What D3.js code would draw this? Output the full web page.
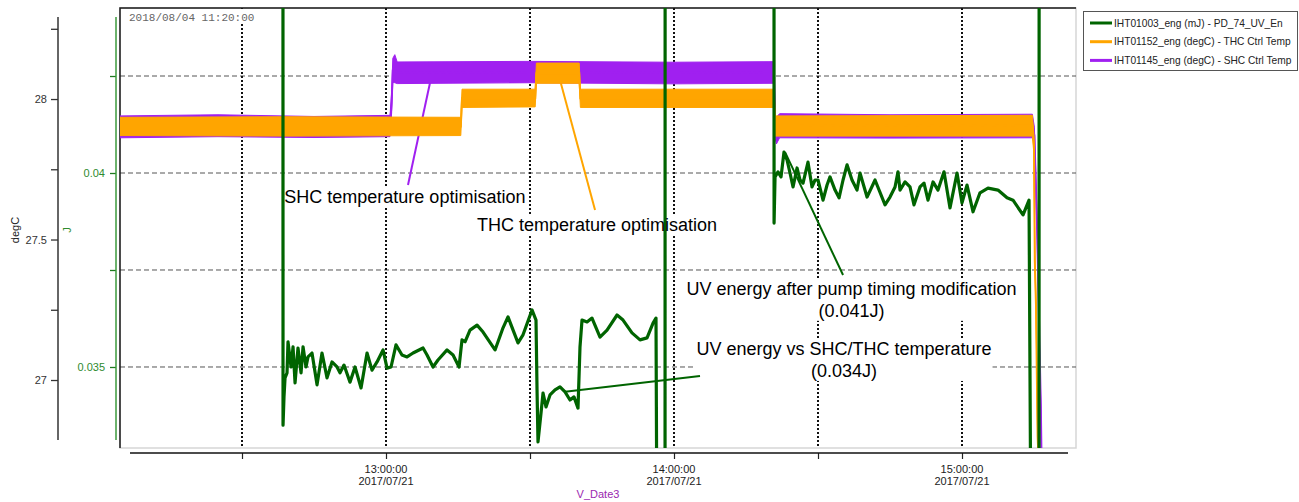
<!DOCTYPE html>
<html>
<head>
<meta charset="utf-8">
<script src="https://cdn.jsdelivr.net/npm/d3@7"></script>
<style>
  body { margin: 0; background: #fff; }
  svg text { font-family: "Liberation Sans", Arial, sans-serif; }
</style>
</head>
<body>
<svg id="chart" width="1299" height="502"></svg>
<script>
// ---- data ----
let day = "2017/07/21";
let stamp = "2018/08/04 11:20:00";

let timeExtent = ["12:04:35", "15:23:45"];
let degCExtent = [26.758, 28.324];
let energyExtent = [0.032912, 0.044253];

let timeTicks = ["12:30:00", "13:00:00", "13:30:00", "14:00:00", "14:30:00", "15:00:00"];
let degCTicks = [27, 27.25, 27.5, 27.75, 28, 28.25];
let degCLabels = ["27", "", "27.5", "", "28", ""];
let energyTicks = [0.035, 0.0375, 0.04, 0.0425];
let energyLabels = ["0.035", "", "0.04", ""];

let seriesNames = ["IHT01003_eng (mJ) - PD_74_UV_En",
                   "IHT01152_eng (degC) - THC Ctrl Temp",
                   "IHT01145_eng (degC) - SHC Ctrl Temp"];
let seriesColors = ["#006400", "#ffa500", "#a020f0"];

// SHC ctrl temp, [time, low, high] of the noisy band (degC)
let shcTemp = [
    ["12:04:35", 27.862, 27.940],
    ["12:25:00", 27.866, 27.944],
    ["12:45:00", 27.863, 27.938],
    ["13:00:50", 27.866, 27.942],
    ["13:01:10", 27.950, 28.020],
    ["13:01:25", 28.060, 28.145],
    ["13:01:50", 28.058, 28.158],
    ["13:02:20", 28.055, 28.132],
    ["13:30:00", 28.058, 28.134],
    ["14:00:00", 28.054, 28.131],
    ["14:20:50", 28.056, 28.133],
    ["14:21:05", 27.860, 27.940],
    ["14:21:20", 27.840, 27.935],
    ["14:22:00", 27.862, 27.948],
    ["14:45:00", 27.861, 27.944],
    ["15:14:40", 27.862, 27.946],
    ["15:15:05", 27.840, 27.900],
    ["15:15:40", 27.500, 27.560],
    ["15:16:10", 27.100, 27.120],
    ["15:16:25", 26.900, 26.920],
    ["15:16:35", 26.700, 26.700]
];

// THC ctrl temp, [time, low, high] (degC)
let thcTemp = [
    ["12:04:35", 27.870, 27.935],
    ["12:40:00", 27.868, 27.937],
    ["13:15:35", 27.870, 27.935],
    ["13:15:50", 27.970, 28.035],
    ["13:31:05", 27.972, 28.035],
    ["13:31:20", 28.056, 28.128],
    ["13:40:15", 28.056, 28.128],
    ["13:40:30", 27.970, 28.035],
    ["14:20:50", 27.970, 28.035],
    ["14:21:05", 27.868, 27.940],
    ["15:14:40", 27.868, 27.942],
    ["15:15:00", 27.800, 27.870],
    ["15:15:10", 27.400, 27.450],
    ["15:15:25", 27.250, 27.280],
    ["15:15:45", 26.800, 26.800],
    ["15:16:00", 26.700, 26.700]
];

// UV energy (J); 0.046 / 0.030 are off-scale readings
let uvEnergy = [
    ["12:38:32", 0.0460], ["12:38:33", 0.03350], ["12:38:45", 0.03423], ["12:38:58", 0.03472],
    ["12:39:23", 0.03485], ["12:39:35", 0.03565], ["12:40:13", 0.03500], ["12:40:38", 0.03552],
    ["12:41:03", 0.03459], ["12:41:40", 0.03549], ["12:42:18", 0.03485], ["12:42:43", 0.03552],
    ["12:43:20", 0.03500], ["12:43:45", 0.03526], ["12:44:35", 0.03536], ["12:45:38", 0.03454],
    ["12:46:40", 0.03536], ["12:47:43", 0.03472], ["12:48:45", 0.03513], ["12:49:48", 0.03500],
    ["12:50:25", 0.03485], ["12:51:15", 0.03505], ["12:52:30", 0.03461], ["12:53:33", 0.03500],
    ["12:54:48", 0.03446], ["12:56:03", 0.03536], ["12:57:05", 0.03492], ["12:58:08", 0.03513],
    ["12:59:23", 0.03544], ["13:00:13", 0.03497], ["13:01:03", 0.03500], ["13:02:05", 0.03557],
    ["13:03:20", 0.03531], ["13:04:23", 0.03526], ["13:05:38", 0.03536], ["13:07:43", 0.03549],
    ["13:08:33", 0.03531], ["13:09:48", 0.03500], ["13:10:50", 0.03518], ["13:12:43", 0.03544],
    ["13:13:58", 0.03531], ["13:15:13", 0.03500], ["13:15:50", 0.03570], ["13:16:28", 0.03565],
    ["13:17:30", 0.03595], ["13:18:58", 0.03608], ["13:20:13", 0.03590], ["13:22:43", 0.03544],
    ["13:24:23", 0.03601], ["13:25:25", 0.03629], ["13:27:30", 0.03562], ["13:28:33", 0.03583],
    ["13:30:25", 0.03647], ["13:31:15", 0.03621], ["13:31:28", 0.03441], ["13:31:40", 0.03307],
    ["13:32:18", 0.03382], ["13:32:43", 0.03433], ["13:33:20", 0.03397], ["13:34:10", 0.03428],
    ["13:35:13", 0.03441], ["13:36:15", 0.03449], ["13:37:18", 0.03436], ["13:38:20", 0.03415],
    ["13:39:10", 0.03423], ["13:40:00", 0.03394], ["13:40:25", 0.03552], ["13:40:50", 0.03621],
    ["13:41:53", 0.03616], ["13:42:55", 0.03626], ["13:44:35", 0.03577], ["13:46:03", 0.03595],
    ["13:48:08", 0.03634], ["13:49:23", 0.03621], ["13:51:15", 0.03588], ["13:52:55", 0.03570],
    ["13:54:23", 0.03575], ["13:55:38", 0.03613], ["13:56:15", 0.03626], ["13:56:28", 0.0300],
    ["13:58:08", 0.0300], ["13:58:09", 0.0460], ["14:20:50", 0.0460], ["14:20:51", 0.03871],
    ["14:21:03", 0.03990], ["14:21:40", 0.04003], ["14:22:18", 0.03990], ["14:22:55", 0.04054],
    ["14:23:33", 0.04034], ["14:24:10", 0.04000], ["14:24:48", 0.03964], ["14:25:38", 0.04013],
    ["14:26:15", 0.03982], ["14:26:53", 0.03974], ["14:27:55", 0.04028], ["14:28:45", 0.03964],
    ["14:29:23", 0.03982], ["14:30:00", 0.03982], ["14:31:03", 0.03930], ["14:31:53", 0.03969],
    ["14:32:30", 0.03990], ["14:33:33", 0.03956], ["14:34:23", 0.03936], ["14:35:13", 0.03982],
    ["14:36:03", 0.04021], ["14:37:05", 0.03982], ["14:38:08", 0.03956], ["14:38:45", 0.04000],
    ["14:40:13", 0.03938], ["14:41:53", 0.03982], ["14:43:58", 0.03918], ["14:45:00", 0.03938],
    ["14:46:03", 0.03964], ["14:46:40", 0.04003], ["14:47:05", 0.03956], ["14:48:08", 0.03977],
    ["14:49:10", 0.03964], ["14:50:00", 0.03918], ["14:51:15", 0.03964], ["14:52:05", 0.03974],
    ["14:52:55", 0.03930], ["14:53:58", 0.03977], ["14:55:00", 0.03956], ["14:56:15", 0.04003],
    ["14:57:30", 0.03910], ["14:58:58", 0.04000], ["15:00:00", 0.03923], ["15:01:03", 0.03969],
    ["15:02:18", 0.03900], ["15:03:45", 0.03949], ["15:05:25", 0.03961], ["15:07:30", 0.03956],
    ["15:09:23", 0.03936], ["15:10:38", 0.03930], ["15:12:43", 0.03892], ["15:13:58", 0.03930],
    ["15:14:23", 0.0300], ["15:16:03", 0.0300], ["15:16:04", 0.0460]
];

// annotations: text lines, pointer from/to and text anchor in data units
let notes = [
    {lines: ["SHC temperature optimisation"], color: "#a020f0", unit: "degC",
     from: ["13:09:23", 28.075], to: ["13:04:35", 27.694], at: ["12:38:49", 27.630], anchor: "start"},
    {lines: ["THC temperature optimisation"], color: "#ffa500", unit: "degC",
     from: ["13:36:15", 28.068], to: ["13:43:33", 27.605], at: ["13:18:58", 27.530], anchor: "start"},
    {lines: ["UV energy after pump timing modification", "(0.041J)"], color: "#006400", unit: "J",
     from: ["14:23:08", 0.04054], to: ["14:35:13", 0.03737], at: ["14:36:59", 0.03686], anchor: "middle"},
    {lines: ["UV energy vs SHC/THC temperature", "(0.034J)"], color: "#006400", unit: "J",
     from: ["13:37:18", 0.03436], to: ["14:05:25", 0.03477], at: ["14:35:25", 0.03531], anchor: "middle"}
];

// ---- chart ----
let parseFull = d3.timeParse("%Y/%m/%d %H:%M:%S");
function t(s) { return parseFull(day + " " + s); }

let plotLeft = 120, plotTop = 8, plotRight = 1076, plotBottom = 448;

var svg = d3.select("#chart");

var x = d3.scaleTime()
          .domain(timeExtent.map(t))
          .range([plotLeft, plotRight]);
var yT = d3.scaleLinear()
           .domain(degCExtent)
           .range([plotBottom, plotTop]);
var yJ = d3.scaleLinear()
           .domain(energyExtent)
           .range([plotBottom, plotTop]);

svg.append("defs").append("clipPath")
   .attr("id", "plotClip")
   .append("rect")
   .attr("x", plotLeft).attr("y", plotTop)
   .attr("width", plotRight - plotLeft).attr("height", plotBottom - plotTop);

// frame
svg.append("rect")
   .attr("x", plotLeft).attr("y", plotTop)
   .attr("width", plotRight - plotLeft).attr("height", plotBottom - plotTop)
   .attr("fill", "#fff")
   .attr("stroke", "#d6d6d6")
   .attr("stroke-width", 1.5);

// GRID
var grid = svg.append("g");
grid.selectAll(".hgrid")
    .data(energyTicks)
    .enter().append("line")
    .attr("x1", plotLeft).attr("x2", plotRight)
    .attr("y1", d => yJ(d)).attr("y2", d => yJ(d))
    .attr("stroke", "#555")
    .attr("stroke-width", 1)
    .attr("stroke-dasharray", "5,3");
grid.selectAll(".vgrid")
    .data(timeTicks)
    .enter().append("line")
    .attr("x1", d => x(t(d))).attr("x2", d => x(t(d)))
    .attr("y1", plotTop).attr("y2", plotBottom)
    .attr("stroke", "#111")
    .attr("stroke-width", 2)
    .attr("stroke-dasharray", "2,2");

svg.append("path")
   .attr("d", "M" + plotLeft + "," + plotBottom + "V" + plotTop + "H" + plotRight)
   .attr("fill", "none")
   .attr("stroke", "#1a1a1a")
   .attr("stroke-width", 1.5);

var boxLayer = svg.append("g");
var pointerLayer = svg.append("g").attr("clip-path", "url(#plotClip)");
var dataLayer = svg.append("g").attr("clip-path", "url(#plotClip)");
var textLayer = svg.append("g");

// timestamp
svg.append("rect")
   .attr("x", 127).attr("y", 9).attr("width", 130).attr("height", 14)
   .attr("fill", "#fff");
svg.append("text")
   .attr("x", 129).attr("y", 21)
   .style("font-family", "'Liberation Mono', monospace")
   .attr("font-size", "11px")
   .attr("fill", "#666")
   .text(stamp);

// BANDS
function drawBand(data, color) {
    var area = d3.area()
                 .x(d => x(t(d[0])))
                 .y0(d => yT(d[1]))
                 .y1(d => yT(d[2]));
    var mid = d3.line()
                .x(d => x(t(d[0])))
                .y(d => yT((d[1] + d[2]) / 2));
    dataLayer.append("path")
             .attr("d", area(data))
             .attr("fill", color)
             .attr("stroke", color)
             .attr("stroke-width", 1);
    dataLayer.append("path")
             .attr("d", mid(data))
             .attr("fill", "none")
             .attr("stroke", color)
             .attr("stroke-width", 2);
}
drawBand(shcTemp, seriesColors[2]);
drawBand(thcTemp, seriesColors[1]);

var uvLine = d3.line()
               .x(d => x(t(d[0])))
               .y(d => yJ(d[1]));
dataLayer.append("path")
         .attr("d", uvLine(uvEnergy))
         .attr("fill", "none")
         .attr("stroke", seriesColors[0])
         .attr("stroke-width", 3.2)
         .attr("stroke-linejoin", "round");

// ANNOTATIONS
notes.forEach(n => {
    var ys = n.unit === "J" ? yJ : yT;
    pointerLayer.append("line")
                .attr("x1", x(t(n.from[0]))).attr("y1", ys(n.from[1]))
                .attr("x2", x(t(n.to[0]))).attr("y2", ys(n.to[1]))
                .attr("stroke", n.color)
                .attr("stroke-width", 2);
    var txt = textLayer.append("text")
                       .attr("x", x(t(n.at[0])))
                       .attr("y", ys(n.at[1]))
                       .attr("text-anchor", n.anchor)
                       .attr("font-size", "18px")
                       .attr("fill", "#000");
    n.lines.forEach((l, i) => {
        txt.append("tspan")
           .attr("x", x(t(n.at[0])))
           .attr("dy", i === 0 ? 0 : 22)
           .text(l);
    });
    var bb = txt.node().getBBox();
    boxLayer.append("rect")
            .attr("x", bb.x - 1).attr("y", bb.y)
            .attr("width", bb.width + 2).attr("height", bb.height)
            .attr("fill", "#fff");
});

// AXES
var xAxis = svg.append("g")
               .attr("transform", "translate(0,453)")
               .call(d3.axisBottom(x).tickValues(timeTicks.map(t)).tickSize(6).tickFormat(""));
xAxis.select(".domain").remove();
xAxis.selectAll(".tick line").attr("stroke", "#222").attr("stroke-width", 1.2);
xAxis.append("line")
     .attr("x1", 130).attr("x2", 1068)
     .attr("stroke", "#111").attr("stroke-width", 1.5);
var hourly = timeTicks.map(t).filter(d => d.getMinutes() === 0);
var xlab = svg.append("g").selectAll("text")
              .data(hourly)
              .enter().append("text")
              .attr("text-anchor", "middle")
              .attr("font-size", "11px")
              .attr("fill", "#222");
xlab.append("tspan").attr("x", d => x(d)).attr("y", 473).text(d3.timeFormat("%H:%M:%S"));
xlab.append("tspan").attr("x", d => x(d)).attr("y", 485).text(d3.timeFormat("%Y/%m/%d"));

svg.append("text")
   .attr("x", 598).attr("y", 498)
   .attr("text-anchor", "middle")
   .attr("font-size", "11px")
   .attr("fill", "#9b27b0")
   .text("V_Date3");

// degC axis
var yAxisT = svg.append("g")
                .attr("transform", "translate(58,0)")
                .call(d3.axisLeft(yT).tickValues(degCTicks).tickSize(7).tickPadding(4)
                        .tickFormat((d, i) => degCLabels[i]));
yAxisT.select(".domain").remove();
yAxisT.selectAll(".tick line").attr("stroke", "#333").attr("stroke-width", 1.3);
yAxisT.selectAll(".tick text").attr("font-size", "11px").attr("fill", "#333")
      .style("font-family", "'Liberation Sans', Arial, sans-serif");
yAxisT.append("line").attr("y1", 17).attr("y2", 440)
      .attr("stroke", "#333").attr("stroke-width", 1.5);
svg.append("text")
   .attr("transform", "translate(19,230) rotate(-90)")
   .attr("text-anchor", "middle")
   .attr("font-size", "11px")
   .attr("fill", "#222")
   .text("degC");

// J axis
var yAxisJ = svg.append("g")
                .attr("transform", "translate(116,0)")
                .call(d3.axisLeft(yJ).tickValues(energyTicks).tickSize(6).tickPadding(5)
                        .tickFormat((d, i) => energyLabels[i]));
yAxisJ.select(".domain").remove();
yAxisJ.selectAll(".tick line").attr("stroke", "#1f7a1f").attr("stroke-width", 1.3);
yAxisJ.selectAll(".tick text").attr("font-size", "11px").attr("fill", "#2e8b2e")
      .style("font-family", "'Liberation Sans', Arial, sans-serif");
yAxisJ.append("line").attr("y1", 17).attr("y2", 440)
      .attr("stroke", "#3d9a3d").attr("stroke-width", 1.5);
svg.append("text")
   .attr("transform", "translate(71,230) rotate(-90)")
   .attr("text-anchor", "middle")
   .attr("font-size", "11px")
   .attr("fill", "#2e8b2e")
   .text("J");

// LEGEND
var legend = svg.append("g");
legend.append("rect")
      .attr("x", 1083.5).attr("y", 11.5).attr("width", 214).attr("height", 59)
      .attr("fill", "#fff")
      .attr("stroke", "#555");
var items = legend.selectAll(".item")
                  .data(seriesNames)
                  .enter().append("g")
                  .attr("transform", (d, i) => "translate(1090," + (23 + i * 18.7) + ")");
items.append("line")
     .attr("x1", 0).attr("x2", 22)
     .attr("stroke", (d, i) => seriesColors[i])
     .attr("stroke-width", 3);
items.append("text")
     .attr("x", 24).attr("y", 3.5)
     .attr("font-size", "10.2px")
     .attr("fill", "#222")
     .text(d => d);
</script>
</body>
</html>
